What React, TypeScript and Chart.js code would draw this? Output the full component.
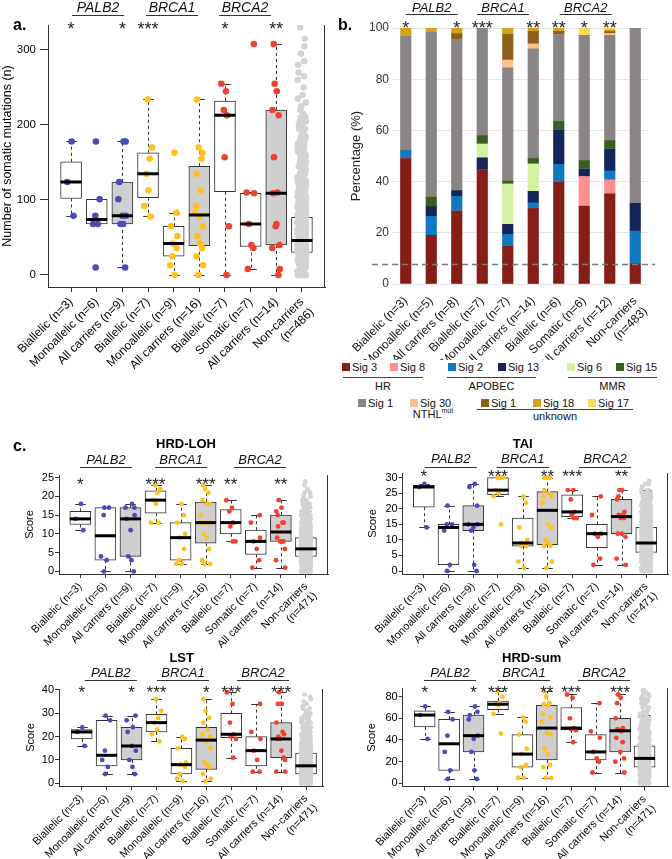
import React, { useEffect, useRef } from 'react';
import { Chart, registerables } from 'chart.js';

Chart.register(...registerables);
const FONT = 'Arial, "Liberation Sans", Helvetica, sans-serif';
Chart.defaults.font.family = FONT;

// ---------------- shared ----------------
const GENES = ['PALB2', 'BRCA1', 'BRCA2'];
const BLUE = '#4B4BBE';
const YEL = '#FFC11E';
const RED = '#EF4132';
const NC_COL = '#D3D3D3';
const GROUP_COLORS = [BLUE, BLUE, BLUE, YEL, YEL, YEL, RED, RED, RED, NC_COL];
const BOX_FILLS = ['#FFFFFF', '#FFFFFF', '#CFCFCF', '#FFFFFF', '#FFFFFF', '#CFCFCF', '#FFFFFF', '#FFFFFF', '#CFCFCF', '#FFFFFF'];
// fixed horizontal jitter pattern (fraction of jitter width)
const JIT = [0.12, -0.63, 0.85, -0.21, 0.47, -0.92, 0.3, -0.45, 0.71, -0.08, 0.58, -0.77, 0.19, -0.34, 0.95, -0.56, 0.04, 0.66, -0.88, 0.38, -0.15, 0.79, -0.69, 0.25, -0.4, 0.52, -0.98, 0.9, -0.27];

// ---------------- panel a : somatic mutations ----------------
const A_LABELS = ['Biallelic (n=3)', 'Monoallelic (n=6)', 'All carriers (n=9)', 'Biallelic (n=7)', 'Monoallelic (n=9)', 'All carriers (n=16)', 'Biallelic (n=7)', 'Somatic (n=7)', 'All carriers (n=14)', ['Non-carriers', '(n=486)']];
const A_STARS = ['*', '', '*', '***', '', '', '*', '', '**', ''];
const A_YTICKS = [0, 100, 200, 300];
const SOM_Q1 = [102, 68, 68, 103, 25, 39, 111, 38, 40, 30];
const SOM_MED = [124, 74, 79, 135, 42, 80, 213, 68, 109, 46];
const SOM_Q3 = [151, 101, 124, 163, 65, 145, 232, 109, 220, 77];
const SOM_LO = [79, 68, 10, 78, 0, 0, 0, 8, 0, 0];
const SOM_HI = [178, 101, 178, 234, 83, 234, 255, 110, 308, 143];
const SOM_PALB2_BI = [178, 124, 79];
const SOM_PALB2_MONO = [178, 101, 79, 68, 68, 10];
const SOM_BRCA1_BI = [234, 170, 155, 135, 113, 92, 78];
const SOM_BRCA1_MONO = [163, 83, 65, 52, 42, 36, 25, 13, 0];
const SOM_BRCA2_BI = [255, 245, 220, 213, 157, 65, 0];
const SOM_BRCA2_SOMATIC = [308, 110, 109, 68, 40, 36, 8];
const SOM_NC_LEVELS = [0, 5, 10, 15, 20, 25, 30, 35, 40, 45, 50, 55, 60, 65, 70, 75, 80, 85, 90, 95, 100, 105, 110, 115, 120, 125, 130, 135, 140, 145, 150, 155, 160, 165, 170, 175, 180, 185, 190, 195, 200, 205, 210, 215, 220, 225, 230, 235, 240, 250, 260, 265, 270, 280, 285, 295, 305, 315, 330];
const SOM_NC_COUNTS = [10, 6, 8, 10, 14, 18, 22, 24, 25, 24, 22, 20, 18, 17, 16, 15, 13, 12, 11, 10, 9, 8, 8, 7, 6, 6, 5, 5, 4, 4, 3, 3, 3, 3, 3, 3, 3, 2, 2, 3, 2, 2, 2, 1, 1, 1, 1, 1, 1, 1, 1, 1, 1, 1, 1, 1, 1, 1, 1];

// ---------------- panel b : signatures ----------------
const B_LABELS = ['Biallelic (n=3)', 'Monoallelic (n=5)', 'All carriers (n=8)', 'Biallelic (n=7)', 'Monoallelic (n=7)', 'All carriers (n=14)', 'Biallelic (n=6)', 'Somatic (n=6)', 'All carriers (n=12)', ['Non-carriers', '(n=483)']];
const B_STARS = ['*', '', '*', '***', '', '**', '**', '*', '**', ''];
const B_YTICKS = [0, 20, 40, 60, 80, 100];
const B_REF_LINE = 8;
const SIG3 = [49, 19, 28.5, 44.5, 14.8, 29.5, 39.8, 30.4, 35.2, 8];
const SIG8 = [0, 0, 0, 0, 0, 0, 0, 11.6, 5.5, 0];
const SIG2 = [3, 7.4, 5.7, 0, 4.6, 2.2, 6.9, 0, 3.5, 12.7];
const SIG13 = [0, 3.9, 2.3, 4.8, 3.9, 4.5, 13.6, 3.0, 8.6, 10.8];
const SIG6 = [0, 0, 0, 5.4, 15.8, 10.7, 0, 0, 0, 0];
const SIG15 = [0, 3.6, 0, 3.3, 1.1, 2.1, 3.2, 3.2, 3.2, 0];
const SIG1 = [44.7, 64.4, 58.9, 42, 44.2, 42.9, 33.9, 48.9, 41.1, 68.5];
const SIG30 = [0, 0, 0, 0, 3.1, 1.9, 0, 0, 0.8, 0];
const SIG1U = [0, 0, 2.4, 0, 10, 4.9, 1.3, 0, 0.7, 0];
const SIG18 = [3.3, 1.7, 2.2, 0, 2.5, 1.3, 1.3, 0, 0.7, 0];
const SIG17 = [0, 0, 0, 0, 0, 0, 0, 2.9, 0.7, 0];
const SIG_NAMES = ['Sig 3', 'Sig 8', 'Sig 2', 'Sig 13', 'Sig 6', 'Sig 15', 'Sig 1', 'Sig 30', 'Sig 1', 'Sig 18', 'Sig 17'];
const SIG_COLORS = ['#861E18', '#FF9090', '#0F78C0', '#15255A', '#D3F09E', '#35601F', '#8A8585', '#FFC090', '#8C5F1B', '#D4A21A', '#FFD95C'];
const SIG_SERIES = [SIG3, SIG8, SIG2, SIG13, SIG6, SIG15, SIG1, SIG30, SIG1U, SIG18, SIG17];

// ---------------- panel c ----------------
const C_LABELS = ['Biallelic (n=3)', 'Monoallelic (n=6)', 'All carriers (n=9)', 'Biallelic (n=7)', 'Monoallelic (n=9)', 'All carriers (n=16)', 'Biallelic (n=7)', 'Somatic (n=7)', 'All carriers (n=14)', ['Non-carriers', '(n=471)']];

// HRD-LOH
const LOH_STARS = ['*', '', '', '***', '', '***', '**', '', '**', ''];
const LOH_YTICKS = [0, 5, 10, 15, 20, 25];
const LOH_Q1 = [12.5, 3, 4, 15.5, 3, 7.5, 10, 4.5, 8, 4];
const LOH_MED = [14, 9.5, 14, 19, 9, 13, 13, 8, 10.5, 6];
const LOH_Q3 = [16, 17, 17, 21.5, 13, 18.5, 16.5, 11, 15, 9];
const LOH_LO = [11, 0, 0, 13, 2, 2, 8, 1, 1, 0];
const LOH_HI = [18, 17, 18, 23, 18, 23, 19, 15, 19, 16];
const LOH_PALB2_BI = [18, 14, 11];
const LOH_PALB2_MONO = [17, 17, 15, 4, 3, 0];
const LOH_BRCA1_BI = [23, 22, 21, 19, 18, 13, 13];
const LOH_BRCA1_MONO = [18, 15, 13, 10, 9, 6, 3, 2, 2];
const LOH_BRCA2_BI = [19, 17, 16, 13, 12, 8, 8];
const LOH_BRCA2_SOMATIC = [15, 13, 9, 8, 6, 3, 1];
const LOH_NC_LEVELS = [0, 1, 2, 3, 4, 5, 6, 7, 8, 9, 10, 11, 12, 13, 14, 15, 16, 17, 18, 19, 20, 21, 22, 23, 24];
const LOH_NC_COUNTS = [15, 20, 30, 38, 45, 48, 48, 42, 38, 32, 26, 20, 16, 13, 10, 8, 6, 4, 3, 3, 2, 2, 1, 1, 1];

// TAI
const TAI_STARS = ['*', '', '', '***', '', '**', '***', '', '**', ''];
const TAI_YTICKS = [0, 5, 10, 15, 20, 25, 30];
const TAI_Q1 = [20.5, 2, 13, 24.5, 8, 8.5, 17.5, 7.5, 12, 6];
const TAI_MED = [27, 14, 15, 26, 9, 19.5, 19, 12, 17.5, 9];
const TAI_Q3 = [27.5, 15, 21, 30, 17, 25.5, 24.5, 15, 23, 14];
const TAI_LO = [14, 0, 0, 24, 1, 1, 17, 2, 2, 0];
const TAI_HI = [28, 21, 28, 30, 24, 30, 26, 24, 26, 26];
const TAI_PALB2_BI = [28, 27, 14];
const TAI_PALB2_MONO = [21, 15, 15, 13, 2, 0];
const TAI_BRCA1_BI = [30, 30, 30, 26, 25, 24, 15];
const TAI_BRCA1_MONO = [24, 22, 14, 10, 9, 8, 8, 3, 1];
const TAI_BRCA2_BI = [26, 26, 23, 19, 18, 17, 17];
const TAI_BRCA2_SOMATIC = [24, 18, 12, 12, 11, 4, 2];
const TAI_NC_LEVELS = [0, 1, 2, 3, 4, 5, 6, 7, 8, 9, 10, 11, 12, 13, 14, 15, 16, 17, 18, 19, 20, 21, 22, 23, 24, 25, 26, 27, 28, 29];
const TAI_NC_COUNTS = [10, 12, 14, 18, 22, 26, 30, 30, 30, 28, 26, 24, 22, 20, 18, 17, 16, 14, 12, 11, 10, 9, 8, 7, 6, 5, 4, 2, 2, 1];

// LST
const LST_STARS = ['*', '', '*', '***', '', '*', '***', '', '***', ''];
const LST_YTICKS = [0, 10, 20, 30, 40];
const LST_Q1 = [19, 7.5, 10, 22, 4, 6, 19.5, 7.5, 11, 4];
const LST_MED = [22, 12, 16, 26, 8, 18.5, 21, 14, 19, 7.5];
const LST_Q3 = [23, 27, 24, 29.5, 15, 24, 30, 20, 26, 13];
const LST_LO = [16, 4, 4, 18, 1, 1, 11, 5, 5, 0];
const LST_HI = [24, 29, 29, 36, 20, 36, 39, 34, 39, 26];
const LST_PALB2_BI = [24, 22, 16];
const LST_PALB2_MONO = [29, 27, 14, 10, 7, 4];
const LST_BRCA1_BI = [36, 31, 28, 26, 23, 21, 18];
const LST_BRCA1_MONO = [20, 19, 15, 9, 8, 7, 4, 2, 1];
const LST_BRCA2_BI = [39, 34, 26, 21, 20, 19, 11];
const LST_BRCA2_SOMATIC = [34, 22, 19, 14, 10, 5, 5];
const LST_NC_LEVELS = [0, 1, 2, 3, 4, 5, 6, 7, 8, 9, 10, 11, 12, 13, 14, 15, 16, 17, 18, 19, 20, 21, 22, 23, 24, 25, 26, 27, 28, 29, 30, 31, 32, 33, 34, 35, 36, 37, 38];
const LST_NC_COUNTS = [20, 25, 28, 30, 32, 32, 30, 28, 26, 23, 21, 19, 17, 15, 13, 12, 11, 10, 9, 8, 7, 7, 6, 5, 5, 4, 4, 3, 3, 3, 2, 2, 2, 2, 1, 1, 1, 1, 1];

// HRD-sum
const SUM_STARS = ['*', '', '*', '***', '', '**', '***', '', '***', ''];
const SUM_YTICKS = [0, 20, 40, 60, 80];
const SUM_Q1 = [52, 12, 29, 68, 15, 21.5, 49.5, 21.5, 29, 15];
const SUM_MED = [63, 36.5, 44, 73, 27, 51, 51, 29, 48.5, 23];
const SUM_Q3 = [67, 59, 63, 76, 45, 72, 70, 45, 60, 34.5];
const SUM_LO = [41, 4, 4, 64, 5, 5, 38, 10, 10, 0];
const SUM_HI = [71, 66, 71, 85, 61, 85, 82, 74, 82, 63];
const SUM_PALB2_BI = [71, 63, 41];
const SUM_PALB2_MONO = [66, 59, 44, 29, 12, 4];
const SUM_BRCA1_BI = [85, 80, 74, 73, 72, 64, 46];
const SUM_BRCA1_MONO = [61, 57, 45, 32, 27, 17, 15, 5, 5];
const SUM_BRCA2_BI = [82, 79, 60, 51, 50, 49, 38];
const SUM_BRCA2_SOMATIC = [74, 48, 42, 29, 23, 20, 10];
const SUM_NC_LEVELS = [0, 2, 4, 6, 8, 10, 12, 14, 16, 18, 20, 22, 24, 26, 28, 30, 32, 34, 36, 38, 40, 42, 44, 46, 48, 50, 52, 54, 56, 58, 60, 62, 64, 66, 68, 70, 72, 74, 76, 78, 80, 82, 84, 86, 88];
const SUM_NC_COUNTS = [11, 8, 9, 11, 13, 15, 17, 18, 20, 20, 20, 18, 18, 16, 15, 14, 13, 12, 11, 10, 10, 8, 8, 7, 6, 6, 6, 5, 4, 4, 4, 4, 3, 2, 2, 2, 2, 2, 2, 2, 2, 2, 1, 1, 1];

function groupsOf(pBi: number[], pMono: number[], b1Bi: number[], b1Mono: number[], b2Bi: number[], b2Som: number[]) {
  return [pBi, pMono, [...pBi, ...pMono], b1Bi, b1Mono, [...b1Bi, ...b1Mono], b2Bi, b2Som, [...b2Bi, ...b2Som]];
}

const SPEC_A = {
  pos: { left: 0, top: 0, width: 336, height: 372 },
  area: { l: 48, r: 325, t: 25, b: 287 },
  xMin: 0.1, xMax: 10.9, yMin: -16, yMax: 333.3, yTicks: A_YTICKS, labels: A_LABELS,
  q1: SOM_Q1, med: SOM_MED, q3: SOM_Q3, lo: SOM_LO, hi: SOM_HI,
  groups: groupsOf(SOM_PALB2_BI, SOM_PALB2_MONO, SOM_BRCA1_BI, SOM_BRCA1_MONO, SOM_BRCA2_BI, SOM_BRCA2_SOMATIC),
  ncLevels: SOM_NC_LEVELS, ncCounts: SOM_NC_COUNTS,
  boxPx: 21, pointR: 3.3, jitC: 0.16, jitN: 0.17,
  tickFont: 11.5, labelFont: 12, yTitle: 'Number of somatic mutations (n)', yTitleFont: 12.5, yTitlePad: 0,
  yTickLen: 8, yTickPad: 4, xTickLen: 5, xTickPad: 3,
  stars: A_STARS, starBase: 35, starFont: 18,
  genes: { x: [98, 172, 245], base: 12, font: 14, line: 14.5, half: 26 },
  letter: { text: 'a.', x: 13, base: 30 },
};
const SPEC_C1 = {
  pos: { left: 0, top: 420, width: 336, height: 235 },
  area: { l: 59, r: 328, t: 55, b: 154 },
  xMin: 0.15, xMax: 10.88, yMin: -0.7, yMax: 25.7, yTicks: LOH_YTICKS, labels: C_LABELS,
  q1: LOH_Q1, med: LOH_MED, q3: LOH_Q3, lo: LOH_LO, hi: LOH_HI,
  groups: groupsOf(LOH_PALB2_BI, LOH_PALB2_MONO, LOH_BRCA1_BI, LOH_BRCA1_MONO, LOH_BRCA2_BI, LOH_BRCA2_SOMATIC),
  ncLevels: LOH_NC_LEVELS, ncCounts: LOH_NC_COUNTS,
  boxPx: 21, pointR: 2.4, jitC: 0.2, jitN: 0.2,
  tickFont: 11, labelFont: 11, yTitle: 'Score', yTitleFont: 11, yTitlePad: 23.4,
  yTickLen: 4, yTickPad: 1, xTickLen: 4, xTickPad: 2,
  stars: LOH_STARS, starBase: 70, starFont: 17,
  genes: { x: [106, 181, 260], base: 44, font: 13, line: 47, half: 26 },
  title: { text: 'HRD-LOH', x: 186, base: 28 },
  letter: { text: 'c.', x: 13, base: 31 },
};
const SPEC_C2 = {
  pos: { left: 336, top: 420, width: 336, height: 235 },
  area: { l: 66.7, r: 334, t: 53, b: 154 },
  xMin: 0.145, xMax: 10.88, yMin: -0.96, yMax: 31.5, yTicks: TAI_YTICKS, labels: C_LABELS,
  q1: TAI_Q1, med: TAI_MED, q3: TAI_Q3, lo: TAI_LO, hi: TAI_HI,
  groups: groupsOf(TAI_PALB2_BI, TAI_PALB2_MONO, TAI_BRCA1_BI, TAI_BRCA1_MONO, TAI_BRCA2_BI, TAI_BRCA2_SOMATIC),
  ncLevels: TAI_NC_LEVELS, ncCounts: TAI_NC_COUNTS,
  boxPx: 21, pointR: 2.4, jitC: 0.2, jitN: 0.2,
  tickFont: 11, labelFont: 11, yTitle: 'Score', yTitleFont: 11, yTitlePad: 30.7,
  yTickLen: 4, yTickPad: 1, xTickLen: 4, xTickPad: 2,
  stars: TAI_STARS, starBase: 62, starFont: 17,
  genes: { x: [114.7, 186.7, 269], base: 43.3, font: 13, line: 46.7, half: 26 },
  title: { text: 'TAI', x: 186.7, base: 28.3 },
};
const SPEC_C3 = {
  pos: { left: 0, top: 632, width: 336, height: 227 },
  area: { l: 59, r: 323, t: 57, b: 154 },
  xMin: 0.09, xMax: 10.68, yMin: -1.15, yMax: 40.4, yTicks: LST_YTICKS, labels: C_LABELS,
  q1: LST_Q1, med: LST_MED, q3: LST_Q3, lo: LST_LO, hi: LST_HI,
  groups: groupsOf(LST_PALB2_BI, LST_PALB2_MONO, LST_BRCA1_BI, LST_BRCA1_MONO, LST_BRCA2_BI, LST_BRCA2_SOMATIC),
  ncLevels: LST_NC_LEVELS, ncCounts: LST_NC_COUNTS,
  boxPx: 21, pointR: 2.4, jitC: 0.2, jitN: 0.2,
  tickFont: 11, labelFont: 11, yTitle: 'Score', yTitleFont: 11, yTitlePad: 24.2,
  yTickLen: 4, yTickPad: 1, xTickLen: 4, xTickPad: 2,
  stars: LST_STARS, starBase: 66, starFont: 17,
  genes: { x: [110.8, 183, 263], base: 45.3, font: 13, line: 48, half: 26 },
  title: { text: 'LST', x: 181.7, base: 29.7 },
};
const SPEC_C4 = {
  pos: { left: 336, top: 632, width: 336, height: 227 },
  area: { l: 66.7, r: 335.7, t: 56.3, b: 154.7 },
  xMin: 0.1, xMax: 10.96, yMin: -3.1, yMax: 87.7, yTicks: SUM_YTICKS, labels: C_LABELS,
  q1: SUM_Q1, med: SUM_MED, q3: SUM_Q3, lo: SUM_LO, hi: SUM_HI,
  groups: groupsOf(SUM_PALB2_BI, SUM_PALB2_MONO, SUM_BRCA1_BI, SUM_BRCA1_MONO, SUM_BRCA2_BI, SUM_BRCA2_SOMATIC),
  ncLevels: SUM_NC_LEVELS, ncCounts: SUM_NC_COUNTS,
  boxPx: 21, pointR: 2.4, jitC: 0.2, jitN: 0.2,
  tickFont: 11, labelFont: 11, yTitle: 'Score', yTitleFont: 11, yTitlePad: 29.4,
  yTickLen: 4, yTickPad: 1, xTickLen: 4, xTickPad: 2,
  stars: SUM_STARS, starBase: 66, starFont: 17,
  genes: { x: [114, 188, 268], base: 45.3, font: 13, line: 48, half: 26 },
  title: { text: 'HRD-sum', x: 195.7, base: 29.7 },
};

const f = (size: number, weight = 'normal', style = 'normal') => `${style} ${weight} ${size}px ${FONT}`;

function drawGenes(ctx: any, g: any, xs: number[]) {
  ctx.fillStyle = '#111';
  ctx.strokeStyle = '#333';
  ctx.lineWidth = 1;
  ctx.font = f(g.font, 'normal', 'italic');
  ctx.textAlign = 'center';
  ctx.textBaseline = 'alphabetic';
  GENES.forEach((name, i) => {
    const cx = xs[i];
    ctx.fillText(name, cx, g.base);
    ctx.beginPath();
    ctx.moveTo(cx - g.half, Math.round(g.line) + 0.5);
    ctx.lineTo(cx + g.half, Math.round(g.line) + 0.5);
    ctx.stroke();
  });
}

function BoxChart({ s }: { s: any }) {
  const ref = useRef<HTMLCanvasElement | null>(null);
  useEffect(() => {
    const canvas = ref.current;
    if (!canvas) return;
    const W = s.pos.width, H = s.pos.height;
    const ptsC: any[] = [];
    const colC: string[] = [];
    s.groups.forEach((vals: number[], g: number) => vals.forEach((v: number, k: number) => {
      ptsC.push({ x: g + 1 + JIT[(k * 5 + g * 3) % JIT.length] * s.jitC, y: v });
      colC.push(GROUP_COLORS[g]);
    }));
    const ptsN: any[] = [];
    let n = 0;
    s.ncLevels.forEach((lv: number, i: number) => {
      for (let k = 0; k < s.ncCounts[i]; k++) {
        ptsN.push({ x: 10 + JIT[(n * 7) % JIT.length] * s.jitN, y: lv });
        n++;
      }
    });
    const plugin = {
      id: 'boxExtra',
      beforeDatasetsDraw(chart: any) {
        const { ctx } = chart;
        const x = chart.scales.x, y = chart.scales.y;
        ctx.save();
        ctx.strokeStyle = '#333';
        ctx.lineWidth = 1;
        s.q1.forEach((q1: number, i: number) => {
          const cx = Math.round(x.getPixelForValue(i + 1)) + 0.5;
          const pairs = [[s.q3[i], s.hi[i]], [q1, s.lo[i]]];
          pairs.forEach(([from, to]) => {
            if (Math.abs(to - from) < 1e-9) return;
            const y0 = y.getPixelForValue(from), y1 = Math.round(y.getPixelForValue(to)) + 0.5;
            ctx.setLineDash([3, 3]);
            ctx.beginPath(); ctx.moveTo(cx, y0); ctx.lineTo(cx, y1); ctx.stroke();
            ctx.setLineDash([]);
            ctx.beginPath(); ctx.moveTo(cx - s.boxPx / 4, y1); ctx.lineTo(cx + s.boxPx / 4, y1); ctx.stroke();
          });
        });
        ctx.restore();
      },
      afterDatasetsDraw(chart: any) {
        const { ctx, chartArea: ca } = chart;
        const x = chart.scales.x, y = chart.scales.y;
        ctx.save();
        ctx.strokeStyle = '#000';
        ctx.lineWidth = 3;
        s.med.forEach((m: number, i: number) => {
          const cx = x.getPixelForValue(i + 1), yy = y.getPixelForValue(m);
          ctx.beginPath(); ctx.moveTo(cx - s.boxPx / 2, yy); ctx.lineTo(cx + s.boxPx / 2, yy); ctx.stroke();
        });
        ctx.strokeStyle = '#333';
        ctx.lineWidth = 1;
        const rx = Math.round(ca.right) - 0.5;
        ctx.beginPath(); ctx.moveTo(rx, ca.top); ctx.lineTo(rx, ca.bottom); ctx.stroke();
        ctx.restore();
      },
      afterDraw(chart: any) {
        const { ctx } = chart;
        const x = chart.scales.x;
        ctx.save();
        if (s.letter) {
          ctx.fillStyle = '#000'; ctx.font = f(16, 'bold'); ctx.textAlign = 'left'; ctx.textBaseline = 'alphabetic';
          ctx.fillText(s.letter.text, s.letter.x, s.letter.base);
        }
        if (s.title) {
          ctx.fillStyle = '#000'; ctx.font = f(13, 'bold'); ctx.textAlign = 'center'; ctx.textBaseline = 'alphabetic';
          ctx.fillText(s.title.text, s.title.x, s.title.base);
        }
        drawGenes(ctx, s.genes, s.genes.x);
        ctx.fillStyle = '#222'; ctx.font = f(s.starFont); ctx.textAlign = 'center'; ctx.textBaseline = 'alphabetic';
        s.stars.forEach((st: string, i: number) => {
          if (st) ctx.fillText(st, x.getPixelForValue(i + 1), s.starBase);
        });
        ctx.restore();
      },
    };
    const chart = new Chart(canvas, {
      type: 'bar',
      data: {
        datasets: [
          { type: 'scatter', data: ptsC, pointBackgroundColor: colC, pointBorderColor: colC, pointBorderWidth: 0, pointRadius: s.pointR, order: 0 } as any,
          { type: 'scatter', data: ptsN, pointBackgroundColor: NC_COL, pointBorderColor: NC_COL, pointBorderWidth: 0, pointRadius: s.pointR, order: 1 } as any,
          { type: 'bar', data: s.q1.map((q: number, i: number) => ({ x: i + 1, y: [q, s.q3[i]] })), backgroundColor: BOX_FILLS, borderColor: '#333', borderWidth: 1, borderSkipped: false, barThickness: s.boxPx, order: 2 } as any,
        ],
      },
      options: {
        responsive: false,
        animation: false,
        events: [],
        devicePixelRatio: 1,
        layout: { padding: { left: 0, top: s.area.t, right: W - s.area.r, bottom: 0 } },
        plugins: { legend: { display: false }, tooltip: { enabled: false } },
        scales: {
          x: {
            type: 'linear', min: s.xMin, max: s.xMax, offset: false,
            afterBuildTicks: (ax: any) => { ax.ticks = s.labels.map((_: any, i: number) => ({ value: i + 1 })); },
            ticks: { autoSkip: false, maxRotation: 45, minRotation: 45, padding: s.xTickPad, color: '#000', font: { size: s.labelFont, family: FONT }, callback: (_v: any, i: number) => s.labels[i] },
            grid: { display: true, offset: false, drawOnChartArea: false, drawTicks: true, tickLength: s.xTickLen, color: '#333' },
            border: { display: true, color: '#333', width: 1 },
            afterFit: (ax: any) => { ax.height = H - s.area.b; },
          },
          y: {
            type: 'linear', min: s.yMin, max: s.yMax,
            afterBuildTicks: (ax: any) => { ax.ticks = s.yTicks.map((v: number) => ({ value: v })); },
            ticks: { padding: s.yTickPad, color: '#000', font: { size: s.tickFont, family: FONT } },
            grid: { display: true, drawOnChartArea: false, drawTicks: true, tickLength: s.yTickLen, color: '#333' },
            border: { display: true, color: '#333', width: 1 },
            title: { display: true, text: s.yTitle, color: '#000', font: { size: s.yTitleFont, family: FONT }, padding: { top: s.yTitlePad, bottom: 0 } },
            afterFit: (ax: any) => { ax.width = s.area.l; },
          },
        },
      } as any,
      plugins: [plugin],
    });
    return () => chart.destroy();
  }, [s]);
  return <canvas ref={ref} width={s.pos.width} height={s.pos.height} style={{ position: 'absolute', left: s.pos.left, top: s.pos.top, width: s.pos.width, height: s.pos.height }} />;
}

function PanelB() {
  const ref = useRef<HTMLCanvasElement | null>(null);
  const W = 336, H = 360;
  const AREA = { l: 57, r: 312, t: 28, b: 284 };
  useEffect(() => {
    const canvas = ref.current;
    if (!canvas) return;
    const plugin = {
      id: 'bExtra',
      afterDatasetsDraw(chart: any) {
        const { ctx, chartArea: ca } = chart;
        const yy = Math.round(chart.scales.y.getPixelForValue(B_REF_LINE)) + 0.5;
        ctx.save();
        ctx.strokeStyle = '#7A7A7A'; ctx.lineWidth = 1.3; ctx.setLineDash([6, 4]);
        ctx.beginPath(); ctx.moveTo(ca.left - 21, yy); ctx.lineTo(ca.right + 7, yy); ctx.stroke();
        ctx.restore();
      },
      afterDraw(chart: any) {
        const { ctx } = chart;
        const x = chart.scales.x;
        ctx.save();
        ctx.fillStyle = '#000'; ctx.font = f(16, 'bold'); ctx.textAlign = 'left'; ctx.textBaseline = 'alphabetic';
        ctx.fillText('b.', 2, 30);
        drawGenes(ctx, { base: 11.7, font: 13, line: 13.5, half: 26 }, [95.7, 167, 249.7]);
        ctx.fillStyle = '#222'; ctx.font = f(18); ctx.textAlign = 'center'; ctx.textBaseline = 'alphabetic';
        B_STARS.forEach((st, i) => { if (st) ctx.fillText(st, x.getPixelForValue(i), 34); });
        ctx.restore();
      },
    };
    const chart = new Chart(canvas, {
      type: 'bar',
      data: {
        labels: B_LABELS as any,
        datasets: SIG_SERIES.map((d, i) => ({ label: SIG_NAMES[i], data: d, backgroundColor: SIG_COLORS[i], borderWidth: 0, barThickness: 10.5 })),
      },
      options: {
        responsive: false,
        animation: false,
        events: [],
        devicePixelRatio: 1,
        layout: { padding: { left: 0, top: AREA.t, right: W - AREA.r, bottom: 0 } },
        plugins: { legend: { display: false }, tooltip: { enabled: false } },
        scales: {
          x: {
            stacked: true,
            grid: { display: false },
            border: { display: false },
            ticks: { autoSkip: false, maxRotation: 45, minRotation: 45, padding: 2, color: '#111', font: { size: 12, family: FONT } },
            afterFit: (ax: any) => { ax.height = H - AREA.b; },
          },
          y: {
            stacked: true, min: 0, max: 100,
            afterBuildTicks: (ax: any) => { ax.ticks = B_YTICKS.map((v) => ({ value: v })); },
            grid: { color: '#E6E6E6', drawTicks: false, lineWidth: 1 },
            border: { display: false },
            ticks: { padding: 4, color: '#333', font: { size: 12, family: FONT } },
            title: { display: true, text: 'Percentage (%)', color: '#222', font: { size: 13, family: FONT }, padding: { top: 13, bottom: 0 } },
            afterFit: (ax: any) => { ax.width = AREA.l; },
          },
        },
      } as any,
      plugins: [plugin],
    });
    return () => chart.destroy();
  }, []);
  return <canvas ref={ref} width={W} height={H} style={{ position: 'absolute', left: 336, top: 0, width: W, height: H }} />;
}

// legend layout (page coordinates): swatch left x, centre y
const LEG_POS = [[342, 367], [390, 367], [448, 367], [498, 367], [567, 367], [616, 367], [358, 403], [410, 403], [481, 403], [533, 403], [588, 403]];
const LEG_GROUPS = [
  { text: 'HR', x1: 343, x2: 423, ly: 377, ty: 386 },
  { text: 'APOBEC', x1: 447, x2: 536, ly: 377, ty: 386 },
  { text: 'MMR', x1: 568, x2: 657, ly: 377, ty: 386 },
  { text: 'unknown', x1: 477, x2: 633, ly: 409, ty: 415.5 },
];

function Legend() {
  const txt: React.CSSProperties = { position: 'absolute', fontFamily: FONT, fontSize: 11, lineHeight: '12px', color: '#111', whiteSpace: 'nowrap' };
  return (
    <>
      {SIG_NAMES.map((name, i) => (
        <React.Fragment key={i}>
          <div style={{ position: 'absolute', left: LEG_POS[i][0], top: LEG_POS[i][1] - 4, width: 8, height: 8, background: SIG_COLORS[i] }} />
          <div style={{ ...txt, left: LEG_POS[i][0] + 10, top: LEG_POS[i][1] - 6 }}>{name}</div>
        </React.Fragment>
      ))}
      {LEG_GROUPS.map((g, i) => (
        <React.Fragment key={'g' + i}>
          <div style={{ position: 'absolute', left: g.x1, top: g.ly, width: g.x2 - g.x1, height: 1, background: '#444' }} />
          <div style={{ ...txt, left: (g.x1 + g.x2) / 2 - 50, width: 100, textAlign: 'center', top: g.ty - 6 }}>{g.text}</div>
        </React.Fragment>
      ))}
      <div style={{ ...txt, left: 383, width: 100, textAlign: 'center', top: 408 }}>NTHL<sup style={{ fontSize: 7, verticalAlign: 'super', lineHeight: 0 }}>mut</sup></div>
    </>
  );
}

export default function App() {
  return (
    <div style={{ position: 'absolute', left: 0, top: 0, width: 672, height: 859, background: '#fff', overflow: 'hidden' }}>
      <BoxChart s={SPEC_A} />
      <PanelB />
      <Legend />
      <BoxChart s={SPEC_C1} />
      <BoxChart s={SPEC_C2} />
      <BoxChart s={SPEC_C3} />
      <BoxChart s={SPEC_C4} />
    </div>
  );
}
